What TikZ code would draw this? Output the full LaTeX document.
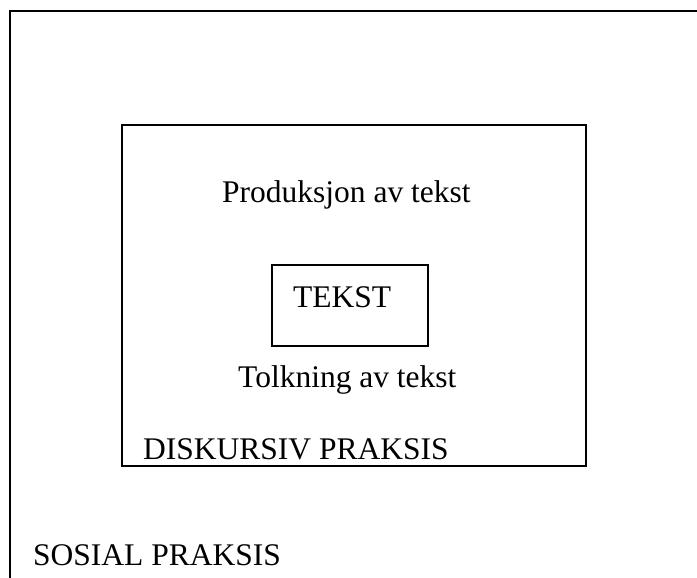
\documentclass[tikz,border=0pt]{standalone}
\usepackage{fontspec}
\setmainfont{Liberation Serif}
\begin{document}
\begin{tikzpicture}[x=1pt,y=-1pt,
  frame/.style={draw=black,line width=2pt},
  lbl/.style={anchor=base west,inner sep=0pt,font=\fontsize{31.5}{36}\selectfont}]
\useasboundingbox (0,0) rectangle (697,578);
\clip (0,0) rectangle (697,578);
\draw[frame] (9.5,11.5) rectangle (720,610);
\draw[frame] (122,125) rectangle (586,466);
\draw[frame] (272,265) rectangle (428,346);
\node[lbl] (prod) at (222,202) {Produksjon av tekst};
\node[lbl] (tekst) at (293,307) {TEKST};
\node[lbl] (tolk) at (238,387) {Tolkning av tekst};
\node[lbl] (disk) at (143,459) {DISKURSIV PRAKSIS};
\node[lbl] (sos) at (33,565) {SOSIAL PRAKSIS};
\end{tikzpicture}
\end{document}
